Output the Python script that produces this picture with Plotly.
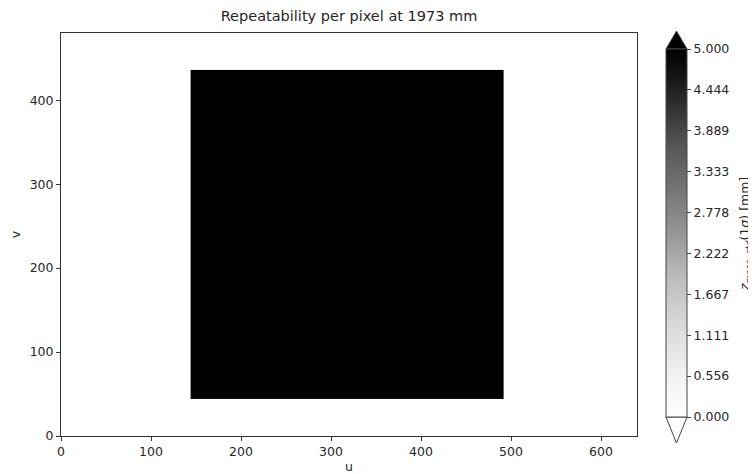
import plotly.graph_objects as go

# ---- data ----
u_edges = [144, 492]          # u extent of the measured region (pixel edges)
v_edges = [44, 436]           # v extent of the measured region (pixel edges)
z_std = [[5.0]]               # repeatability (>= colour max, shown black)
x_ticks = [0, 100, 200, 300, 400, 500, 600]
y_ticks = [0, 100, 200, 300, 400]
cbar_tick_labels = ["0.000", "0.556", "1.111", "1.667", "2.222",
                    "2.778", "3.333", "3.889", "4.444", "5.000"]

# page body has an 8px margin: lay the figure out so it lands on the target pixels
OFF = 8
W, H = 756 - OFF, 474 - OFF
plot_l, plot_r, plot_t, plot_b = 61, 637, 33, 436   # target page pixels
L, R = plot_l - OFF, W - (plot_r - OFF)
T, B = plot_t - OFF, H - (plot_b - OFF)
pw, ph = W - L - R, H - T - B

def px(x):  # target page pixel -> paper fraction
    return (x - OFF - L) / pw

def py(y):
    return (H - B - (y - OFF)) / ph

greys = [[0.0, "#ffffff"], [0.125, "#f0f0f0"], [0.25, "#d9d9d9"], [0.375, "#bdbdbd"],
         [0.5, "#969696"], [0.625, "#737373"], [0.75, "#525252"], [0.875, "#252525"],
         [1.0, "#000000"]]

font = dict(family="DejaVu Sans", size=12.5, color="#262626")

cb_top, cb_bot = 49, 417
cb_l, cb_r = 666, 687

fig = go.Figure(go.Heatmap(
    x=u_edges, y=v_edges, z=z_std,
    zmin=0, zmax=5, colorscale=greys,
    colorbar=dict(
        x=px(cb_l), xanchor="left", xref="paper",
        y=py((cb_top + cb_bot) / 2), yanchor="middle",
        lenmode="pixels", len=cb_bot - cb_top,
        thicknessmode="pixels", thickness=cb_r - cb_l,
        outlinewidth=1, outlinecolor="#444444",
        tickmode="array",
        tickvals=[float(t) for t in cbar_tick_labels],
        ticktext=cbar_tick_labels,
        ticks="outside", ticklen=4, tickcolor="#444444",
        tickfont=font,
        xpad=0, ypad=0,
    ),
))

# extension triangles of the colour bar
cx = (cb_l + cb_r) / 2
fig.add_shape(type="path", xref="paper", yref="paper",
              path=f"M {px(cb_l)} {py(cb_top)} L {px(cb_r)} {py(cb_top)} L {px(cx)} {py(31)} Z",
              fillcolor="#000000", line=dict(color="#444444", width=1))
fig.add_shape(type="path", xref="paper", yref="paper",
              path=f"M {px(cb_l)} {py(cb_bot)} L {px(cb_r)} {py(cb_bot)} L {px(cx)} {py(443)} Z",
              fillcolor="#ffffff", line=dict(color="#444444", width=1))

# colour bar label
fig.add_annotation(xref="paper", yref="paper", x=px(745), y=py(234),
                   text="<i>z</i><sub><i>meas, std</i></sub>(1<i>σ</i>) [mm]",
                   textangle=-90, showarrow=False, xanchor="center", yanchor="middle",
                   font=dict(family="DejaVu Sans", size=12.5, color="#262626"))

axis_common = dict(showgrid=False, zeroline=False, showline=True, linecolor="#333333",
                   linewidth=1, mirror=True, ticks="outside", ticklen=4,
                   tickcolor="#333333", tickfont=font, automargin=False)

fig.update_layout(
    width=W, height=H,
    margin=dict(l=L, r=R, t=T, b=B, autoexpand=False),
    paper_bgcolor="white", plot_bgcolor="white",
    font=font,
    title=dict(text="Repeatability per pixel at 1973 mm",
               x=(L + pw / 2) / W, xanchor="center",
               y=1 - (16 - OFF) / H, yanchor="middle",
               font=dict(family="DejaVu Sans", size=14.5, color="#262626")),
    xaxis=dict(range=[0, 640], tickvals=x_ticks,
               title=dict(text="u", standoff=4, font=font), **axis_common),
    yaxis=dict(range=[0, 480], tickvals=y_ticks,
               title=dict(text="v", standoff=8, font=font), **axis_common),
)

fig.write_html("out.html")
